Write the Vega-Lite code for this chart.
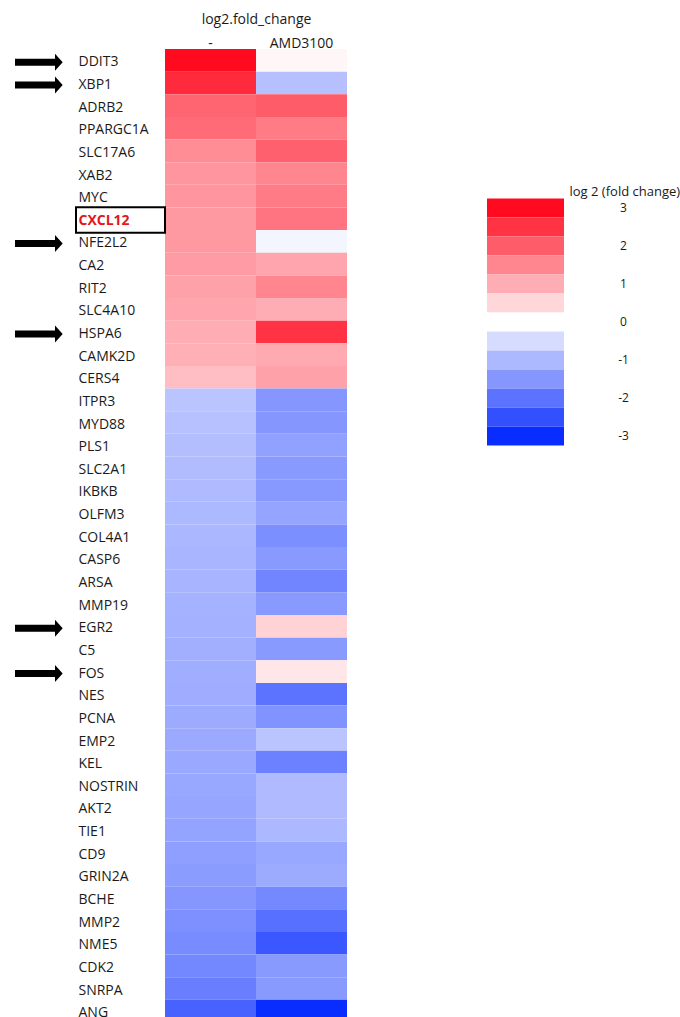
{
  "$schema": "https://vega.github.io/schema/vega-lite/v6.json",
  "background": "white",
  "padding": {"left": 15, "top": 12, "right": 0, "bottom": 0},
  "spacing": 140,
  "config": {
    "view": {"stroke": null},
    "font": "Open Sans",
    "axis": {"labelFont": "Open Sans", "titleFont": "Open Sans", "labelColor": "#1a1a1a", "titleColor": "#1a1a1a", "titleFontWeight": "normal", "grid": false}
  },
  "datasets": {
    "cells": [
      {"gene": "DDIT3", "treatment": "-", "value": 3.0}, {"gene": "DDIT3", "treatment": "AMD3100", "value": 0.1},
      {"gene": "XBP1", "treatment": "-", "value": 2.6}, {"gene": "XBP1", "treatment": "AMD3100", "value": -0.9},
      {"gene": "ADRB2", "treatment": "-", "value": 1.9}, {"gene": "ADRB2", "treatment": "AMD3100", "value": 2.0},
      {"gene": "PPARGC1A", "treatment": "-", "value": 1.8}, {"gene": "PPARGC1A", "treatment": "AMD3100", "value": 1.6},
      {"gene": "SLC17A6", "treatment": "-", "value": 1.4}, {"gene": "SLC17A6", "treatment": "AMD3100", "value": 1.95},
      {"gene": "XAB2", "treatment": "-", "value": 1.3}, {"gene": "XAB2", "treatment": "AMD3100", "value": 1.5},
      {"gene": "MYC", "treatment": "-", "value": 1.28}, {"gene": "MYC", "treatment": "AMD3100", "value": 1.6},
      {"gene": "CXCL12", "treatment": "-", "value": 1.25}, {"gene": "CXCL12", "treatment": "AMD3100", "value": 1.7},
      {"gene": "NFE2L2", "treatment": "-", "value": 1.25}, {"gene": "NFE2L2", "treatment": "AMD3100", "value": -0.15},
      {"gene": "CA2", "treatment": "-", "value": 1.22}, {"gene": "CA2", "treatment": "AMD3100", "value": 1.1},
      {"gene": "RIT2", "treatment": "-", "value": 1.15}, {"gene": "RIT2", "treatment": "AMD3100", "value": 1.5},
      {"gene": "SLC4A10", "treatment": "-", "value": 1.1}, {"gene": "SLC4A10", "treatment": "AMD3100", "value": 1.0},
      {"gene": "HSPA6", "treatment": "-", "value": 1.0}, {"gene": "HSPA6", "treatment": "AMD3100", "value": 2.5},
      {"gene": "CAMK2D", "treatment": "-", "value": 0.97}, {"gene": "CAMK2D", "treatment": "AMD3100", "value": 1.05},
      {"gene": "CERS4", "treatment": "-", "value": 0.8}, {"gene": "CERS4", "treatment": "AMD3100", "value": 1.15},
      {"gene": "ITPR3", "treatment": "-", "value": -0.85}, {"gene": "ITPR3", "treatment": "AMD3100", "value": -1.5},
      {"gene": "MYD88", "treatment": "-", "value": -0.88}, {"gene": "MYD88", "treatment": "AMD3100", "value": -1.5},
      {"gene": "PLS1", "treatment": "-", "value": -0.93}, {"gene": "PLS1", "treatment": "AMD3100", "value": -1.35},
      {"gene": "SLC2A1", "treatment": "-", "value": -0.96}, {"gene": "SLC2A1", "treatment": "AMD3100", "value": -1.45},
      {"gene": "IKBKB", "treatment": "-", "value": -0.98}, {"gene": "IKBKB", "treatment": "AMD3100", "value": -1.47},
      {"gene": "OLFM3", "treatment": "-", "value": -1.0}, {"gene": "OLFM3", "treatment": "AMD3100", "value": -1.3},
      {"gene": "COL4A1", "treatment": "-", "value": -1.03}, {"gene": "COL4A1", "treatment": "AMD3100", "value": -1.6},
      {"gene": "CASP6", "treatment": "-", "value": -1.05}, {"gene": "CASP6", "treatment": "AMD3100", "value": -1.45},
      {"gene": "ARSA", "treatment": "-", "value": -1.07}, {"gene": "ARSA", "treatment": "AMD3100", "value": -1.75},
      {"gene": "MMP19", "treatment": "-", "value": -1.1}, {"gene": "MMP19", "treatment": "AMD3100", "value": -1.45},
      {"gene": "EGR2", "treatment": "-", "value": -1.12}, {"gene": "EGR2", "treatment": "AMD3100", "value": 0.55},
      {"gene": "C5", "treatment": "-", "value": -1.14}, {"gene": "C5", "treatment": "AMD3100", "value": -1.45},
      {"gene": "FOS", "treatment": "-", "value": -1.16}, {"gene": "FOS", "treatment": "AMD3100", "value": 0.3},
      {"gene": "NES", "treatment": "-", "value": -1.18}, {"gene": "NES", "treatment": "AMD3100", "value": -2.0},
      {"gene": "PCNA", "treatment": "-", "value": -1.2}, {"gene": "PCNA", "treatment": "AMD3100", "value": -1.55},
      {"gene": "EMP2", "treatment": "-", "value": -1.22}, {"gene": "EMP2", "treatment": "AMD3100", "value": -0.85},
      {"gene": "KEL", "treatment": "-", "value": -1.24}, {"gene": "KEL", "treatment": "AMD3100", "value": -1.8},
      {"gene": "NOSTRIN", "treatment": "-", "value": -1.26}, {"gene": "NOSTRIN", "treatment": "AMD3100", "value": -0.97},
      {"gene": "AKT2", "treatment": "-", "value": -1.28}, {"gene": "AKT2", "treatment": "AMD3100", "value": -0.97},
      {"gene": "TIE1", "treatment": "-", "value": -1.31}, {"gene": "TIE1", "treatment": "AMD3100", "value": -1.02},
      {"gene": "CD9", "treatment": "-", "value": -1.37}, {"gene": "CD9", "treatment": "AMD3100", "value": -1.25},
      {"gene": "GRIN2A", "treatment": "-", "value": -1.42}, {"gene": "GRIN2A", "treatment": "AMD3100", "value": -1.2},
      {"gene": "BCHE", "treatment": "-", "value": -1.5}, {"gene": "BCHE", "treatment": "AMD3100", "value": -1.7},
      {"gene": "MMP2", "treatment": "-", "value": -1.58}, {"gene": "MMP2", "treatment": "AMD3100", "value": -2.05},
      {"gene": "NME5", "treatment": "-", "value": -1.64}, {"gene": "NME5", "treatment": "AMD3100", "value": -2.4},
      {"gene": "CDK2", "treatment": "-", "value": -1.72}, {"gene": "CDK2", "treatment": "AMD3100", "value": -1.45},
      {"gene": "SNRPA", "treatment": "-", "value": -1.85}, {"gene": "SNRPA", "treatment": "AMD3100", "value": -1.45},
      {"gene": "ANG", "treatment": "-", "value": -2.25}, {"gene": "ANG", "treatment": "AMD3100", "value": -3.0}
    ],
    "notes": [
      {"gene": "DDIT3", "note": "arrow"},
      {"gene": "XBP1", "note": "arrow"},
      {"gene": "NFE2L2", "note": "arrow"},
      {"gene": "HSPA6", "note": "arrow"},
      {"gene": "EGR2", "note": "arrow"},
      {"gene": "FOS", "note": "arrow"},
      {"gene": "CXCL12", "note": "box"}
    ],
    "legend": [
      {"v": 3}, {"v": 2.5}, {"v": 2}, {"v": 1.5}, {"v": 1}, {"v": 0.5}, {"v": 0},
      {"v": -0.5}, {"v": -1}, {"v": -1.5}, {"v": -2}, {"v": -2.5}, {"v": -3}
    ]
  },
  "hconcat": [
    {
      "width": 182,
      "height": 973.5,
      "layer": [
        {
          "data": {"name": "cells"},
          "mark": {"type": "rect"},
          "encoding": {
            "x": {
              "field": "treatment", "type": "nominal",
              "scale": {"domain": ["-", "AMD3100"], "paddingInner": 0, "paddingOuter": 0},
              "axis": {
                "orient": "top", "labelAngle": 0, "ticks": false, "domain": false,
                "labelPadding": -1, "labelFontSize": 14,
                "title": "log2.fold_change", "titleFontSize": 14, "titlePadding": 10
              }
            },
            "y": {
              "field": "gene", "type": "nominal",
              "scale": {
                "domain": ["DDIT3", "XBP1", "ADRB2", "PPARGC1A", "SLC17A6", "XAB2", "MYC", "CXCL12", "NFE2L2", "CA2", "RIT2", "SLC4A10", "HSPA6", "CAMK2D", "CERS4", "ITPR3", "MYD88", "PLS1", "SLC2A1", "IKBKB", "OLFM3", "COL4A1", "CASP6", "ARSA", "MMP19", "EGR2", "C5", "FOS", "NES", "PCNA", "EMP2", "KEL", "NOSTRIN", "AKT2", "TIE1", "CD9", "GRIN2A", "BCHE", "MMP2", "NME5", "CDK2", "SNRPA", "ANG"],
                "paddingInner": 0, "paddingOuter": 0
              },
              "axis": {
                "title": null, "ticks": false, "domain": false,
                "labelAlign": "left", "labelPadding": 87, "labelOffset": 2,
                "labelFontSize": 14,
                "labelColor": {"condition": {"test": "datum.value === 'CXCL12'", "value": "#e3161d"}, "value": "#1a1a1a"},
                "labelFontWeight": {"condition": {"test": "datum.value === 'CXCL12'", "value": "bold"}, "value": "normal"}
              }
            },
            "color": {
              "field": "value", "type": "quantitative",
              "scale": {"type": "linear", "domain": [-3, 0, 3], "range": ["#0a2dff", "#ffffff", "#ff0a1e"], "interpolate": "rgb"},
              "legend": null
            }
          }
        },
        {
          "data": {"name": "notes"},
          "transform": [{"filter": "datum.note === 'arrow'"}],
          "mark": {
            "type": "point", "filled": true, "color": "black", "opacity": 1, "strokeWidth": 0, "size": 4,
            "shape": "M-195.5,-1.5L-155.5,-1.5L-155.5,-6.5L-147.8,2L-155.5,10.5L-155.5,5.5L-195.5,5.5Z"
          },
          "encoding": {
            "x": {"datum": "-"},
            "y": {"field": "gene", "type": "nominal"}
          }
        },
        {
          "data": {"name": "notes"},
          "transform": [{"filter": "datum.note === 'box'"}],
          "mark": {
            "type": "point", "filled": false, "color": "black", "opacity": 1, "strokeWidth": 2, "size": 4,
            "shape": "M-134.5,-11.5L-45.5,-11.5L-45.5,14L-134.5,14Z"
          },
          "encoding": {
            "x": {"datum": "-"},
            "y": {"field": "gene", "type": "nominal"}
          }
        }
      ]
    },
    {
      "width": 77,
      "height": 396,
      "data": {"name": "legend"},
      "mark": {"type": "rect"},
      "encoding": {
        "y": {
          "field": "v", "type": "quantitative",
          "bin": {"step": 0.5, "extent": [-3, 3.5]},
          "scale": {"domain": [-3, 7.421], "zero": false, "nice": false},
          "axis": {
            "orient": "right", "ticks": false, "domain": false, "grid": false,
            "values": [3.25, 2.25, 1.25, 0.25, -0.75, -1.75, -2.75],
            "labelExpr": "'' + floor(datum.value)",
            "labelAlign": "center", "labelPadding": 59, "labelFontSize": 12,
            "title": "log 2 (fold change)", "titleAngle": 0, "titleAlign": "left", "titleBaseline": "middle",
            "titleX": 5, "titleY": 142, "titleFontSize": 13
          }
        },
        "color": {
          "field": "v", "type": "quantitative",
          "scale": {"type": "linear", "domain": [-3, 0, 3], "range": ["#0a2dff", "#ffffff", "#ff0a1e"], "interpolate": "rgb"},
          "legend": null
        }
      }
    }
  ]
}
